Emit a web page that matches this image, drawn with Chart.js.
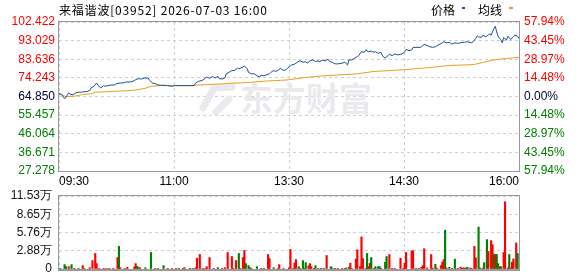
<!DOCTYPE html>
<html>
<head>
<meta charset="utf-8">
<script src="https://cdn.jsdelivr.net/npm/chart.js@4.4.1/dist/chart.umd.min.js"></script>
<style>
html, body { margin: 0; padding: 0; background: #fff; overflow: hidden; }
#wrap { position: relative; width: 578px; height: 276px; overflow: hidden; }
#priceChart { position: absolute; left: 0; top: 0; }
#volChart { position: absolute; left: 0; top: 180px; }
</style>
</head>
<body>
<div id="wrap">
  <canvas id="priceChart" width="578" height="190"></canvas>
  <canvas id="volChart" width="578" height="106"></canvas>
</div>
<script>
// Header and axis labels
const stockTitle = '来福谐波[03952] 2026-07-03 16:00';
const timeLabels = ['09:30', '11:00', '13:30', '14:30', '16:00'];
const timeTicks = [0, 82.5, 165, 247.5, 330];
const priceTicks = [27.278, 36.671, 46.064, 55.457, 64.850, 74.243, 83.636, 93.029, 102.422];
const pctLabels = ['57.94%', '43.45%', '28.97%', '14.48%', '0.00%', '14.48%', '28.97%', '43.45%', '57.94%'];
const volTicks = [0, 2.88, 5.76, 8.65, 11.53];

// Price line (minute index from 09:30, price)
const priceMinutes = [0, 2, 4, 5, 7, 8, 10, 12, 14, 16, 17, 20, 22, 23, 25, 27, 28, 30, 32, 33, 35, 38, 40, 41, 44, 46, 48, 51, 53, 55, 57, 59, 61, 64, 65, 67, 69, 71, 73, 76, 78, 81, 83, 90, 97,
  98, 100, 103, 105, 106, 108, 110, 112, 114, 115, 117, 119, 120, 122, 124, 126, 128, 129, 130, 132, 133, 135, 136, 138, 140, 142, 144, 145, 147, 149, 151, 152, 154, 155, 157, 159, 160, 162, 164, 166, 167,
  169, 171, 173, 175, 177, 178, 180, 182, 184, 185, 187, 189, 191, 193, 194, 196, 198, 200, 203, 205, 207, 208, 210, 212, 214, 215, 217, 219, 220, 222, 224, 226, 227, 229, 231, 232, 234, 236, 237, 239, 241, 243, 245, 247, 248,
  249, 251, 253, 254, 256, 259, 260, 262, 264, 266, 268, 270, 272, 275, 276, 278, 280, 282, 284, 286, 288, 291, 293, 296, 297, 299, 300, 301, 303, 304, 306, 308, 309, 310, 311, 312, 313, 314, 315, 316, 317, 318, 319, 321, 322, 323, 324, 326, 327, 329, 330];
const priceValues = [66.35, 65.85, 63.69, 64.68, 66.68, 66.01, 65.68, 66.68, 67.01, 67.01, 67.18, 67.34, 67.84, 69.17, 70.0, 71.67, 70.34, 69.17, 70.34, 70.0, 70.34, 70.67, 70.67, 71.33, 71.67, 71.67, 72.17, 72.17, 72.5, 73.33, 73.83, 73.66, 74.16, 74.16, 73.0, 71.67, 71.33, 70.67, 70.5, 70.5, 70.34, 70.0, 70.34, 70.34, 70.34,
  71.67, 72.5, 73.0, 74.16, 74.66, 74.0, 75.0, 74.16, 75.0, 73.83, 73.66, 74.16, 76.32, 76.99, 77.98, 77.98, 79.15, 78.81, 79.15, 79.65, 80.31, 78.81, 76.99, 76.32, 76.32, 75.32, 74.66, 75.66, 75.32, 75.82, 76.32, 76.99, 77.98, 77.48, 77.98, 79.15, 78.32, 77.98, 79.15, 80.31, 80.81,
  81.14, 82.14, 82.81, 82.14, 82.47, 81.64, 82.81, 83.30, 82.47, 82.81, 82.47, 83.14, 82.81, 83.64, 82.47, 82.14, 81.31, 81.31, 81.64, 82.14, 80.81, 83.30, 83.30, 84.14, 84.97, 85.47, 87.46, 87.13, 88.29, 87.46, 87.79, 87.13, 87.46, 86.63, 87.13, 85.47, 84.14, 85.47, 86.13, 85.47, 86.30, 85.80, 86.13, 86.63, 87.46,
  88.62, 87.96, 88.29, 89.62, 89.62, 89.62, 89.95, 91.12, 90.62, 89.95, 89.62, 89.95, 90.79, 91.95, 92.45, 91.95, 92.12, 91.28, 91.95, 91.62, 91.95, 92.28, 92.45, 91.95, 92.45, 94.11, 95.44, 94.94, 94.61, 95.77, 94.94, 95.77, 96.6, 95.77, 97.43, 99.1, 100.26, 97.43, 95.27, 94.11, 93.61, 91.95, 94.61, 93.28, 95.27, 94.61, 93.61, 94.94, 95.77, 95.27, 94.11];

// Average price line
const avgMinutes = [0, 5, 11, 17, 23, 26, 33, 41, 47, 54, 62, 66, 73, 83, 97, 99, 106, 116, 121, 130, 140, 149, 159, 165, 176, 188, 200, 214, 226, 240, 252, 268, 280, 297, 304, 311, 321, 330];
const avgValues = [66.2, 64.8, 65.0, 65.85, 66.2, 67.0, 67.2, 67.5, 67.7, 68.0, 69.0, 70.0, 70.34, 70.34, 70.34, 70.6, 70.84, 71.17, 71.5, 71.67, 72.17, 72.66, 73.0, 73.3, 74.4, 75.2, 75.7, 76.3, 77.5, 78.0, 78.6, 79.6, 80.5, 80.9, 82.0, 83.2, 84.0, 84.6];

// Volume bars (minute index, volume in 万, 1 = up / 0 = down)
const volMinutes = [1, 4, 5, 7, 9, 11, 14, 17, 18, 22, 24, 26, 27, 29, 32, 34, 36, 39, 42, 43, 44, 47, 49, 54, 55, 56, 57, 58, 62, 66, 69, 71, 75, 78, 81,
  84, 86, 89, 90, 94, 96, 98, 99, 101, 103, 105, 106, 108, 111, 114, 117, 119, 121, 124, 125, 127, 129, 130, 132, 133, 134, 136, 137, 138, 142, 145, 147, 150, 151, 154, 157, 158, 161, 165, 166,
  168, 169, 170, 172, 173, 175, 176, 177, 179, 180, 181, 183, 184, 186, 188, 190, 192, 195, 196, 198, 200, 203, 205, 206, 208, 209, 210, 213, 214, 216, 217, 218, 220, 221, 222, 223, 224, 226, 227, 229, 230, 231, 234, 235, 237, 239, 241, 245, 247, 248, 249,
  253, 254, 256, 258, 260, 261, 262, 264, 267, 268, 270, 271, 274, 275, 276, 277, 278, 280, 282, 284, 286, 288, 289, 290, 291, 292, 293, 295, 296, 298, 299, 301, 302, 304, 305, 307, 308, 310, 311, 312, 313, 314, 315, 316, 317, 319, 320, 322, 323, 324, 325, 326, 328, 329];
const volValues = [0.1, 0.69, 0.37, 0.37, 0.69, 0.1, 0.1, 0.53, 0.1, 0.21, 1.33, 2.45, 0.85, 0.1, 0.1, 0.1, 0.1, 0.1, 1.81, 3.57, 0.21, 0.1, 0.27, 0.32, 0.85, 0.43, 0.21, 0.21, 0.21, 2.61, 0.1, 0.1, 0.53, 0.1, 0.1,
  0.1, 0.1, 0.1, 0.21, 0.1, 0.1, 0.21, 1.71, 2.29, 0.1, 0.1, 0.37, 1.81, 0.1, 0.21, 0.1, 0.21, 2.61, 1.97, 0.1, 1.33, 2.45, 0.1, 1.81, 2.93, 0.85, 0.53, 0.21, 0.1, 0.37, 0.1, 0.1, 2.29, 1.65, 0.21, 0.1, 0.69, 0.1, 0.21, 3.09,
  0.1, 0.96, 1.49, 0.37, 0.1, 1.33, 0.1, 1.01, 0.48, 0.85, 0.37, 0.1, 0.53, 0.1, 0.1, 0.1, 2.13, 0.37, 0.16, 0.1, 0.1, 0.1, 0.1, 0.16, 0.27, 0.91, 0.1, 1.6, 3.04, 0.37, 5.07, 1.65, 0.1, 2.45, 0.37, 0.91, 1.81, 0.1, 0.37, 0.37, 0.37, 0.1, 1.07, 1.97, 2.29, 0.1, 0.1, 1.71, 0.1, 0.91, 2.61,
  2.88, 2.88, 0.1, 0.1, 0.27, 0.53, 3.2, 0.16, 2.29, 0.16, 0.75, 0.16, 0.53, 1.07, 1.49, 6.13, 0.16, 0.27, 0.1, 1.55, 0.1, 0.27, 0.16, 0.16, 0.16, 0.16, 0.27, 0.16, 0.1, 3.57, 1.76, 6.61, 0.16, 0.16, 1.01, 4.64, 2.77, 4.48, 3.84, 2.29, 2.29, 2.29, 0.85, 0.37, 0.37, 2.61, 10.61, 0.16, 2.29, 0.16, 1.07, 1.6, 4.11, 2.45];
const volUp = [0, 0, 0, 1, 0, 1, 0, 1, 0, 1, 1, 1, 1, 1, 1, 1, 1, 1, 1, 0, 1, 0, 1, 1, 1, 0, 0, 1, 0, 0, 1, 0, 0, 1, 1,
  1, 0, 0, 1, 0, 0, 1, 1, 1, 1, 1, 1, 1, 1, 0, 1, 1, 1, 1, 1, 1, 0, 1, 1, 1, 0, 0, 0, 1, 0, 1, 1, 1, 1, 0, 1, 1, 1, 1, 1,
  1, 1, 1, 0, 1, 0, 1, 0, 1, 1, 1, 0, 0, 1, 0, 1, 1, 0, 0, 1, 1, 1, 1, 0, 0, 1, 1, 1, 1, 1, 1, 1, 1, 0, 0, 1, 0, 1, 0, 0, 0, 1, 0, 0, 1, 1, 1, 1, 1, 1, 1,
  1, 1, 1, 0, 1, 1, 1, 1, 1, 1, 0, 1, 1, 1, 1, 0, 1, 0, 1, 0, 1, 1, 1, 1, 0, 1, 0, 1, 1, 1, 1, 0, 0, 1, 0, 0, 1, 1, 1, 0, 1, 0, 0, 1, 0, 1, 1, 1, 0, 1, 1, 1, 1, 0];

const RED = '#ff0000';
const GREEN = '#008000';
const BLUE = '#1a4f9c';
const ORANGE = '#e2a21b';
const GRID = '#cfcfcf';
const tickFont = { family: '"Liberation Sans", Arial, sans-serif', size: 12 };

function priceTickColor(ctx) {
    if (ctx.index < 4) return GREEN;
    if (ctx.index > 4) return RED;
    return '#00003a';
}

// plot frame, header, legend and watermark
const framePlugin = {
    id: 'frame',
    beforeDatasetsDraw(chart, args, opts) {
        if (!opts.watermark) return;
        const ctx = chart.ctx;
        ctx.save();
        ctx.fillStyle = '#eaeaee';
        ctx.strokeStyle = '#eaeaee';
        ctx.lineWidth = 7;
        ctx.lineCap = 'round';
        ctx.beginPath();
        ctx.moveTo(232, 87);
        ctx.lineTo(214, 88);
        ctx.lineTo(203, 108);
        ctx.moveTo(229, 99);
        ctx.lineTo(216, 112);
        ctx.stroke();
        ctx.font = 'bold 33px "Noto Sans CJK SC"';
        ctx.textBaseline = 'middle';
        ctx.fillText('东方财富', 240, 98);
        ctx.restore();
    },
    afterDraw(chart, args, opts) {
        const ctx = chart.ctx;
        const a = chart.chartArea;
        ctx.save();
        ctx.strokeStyle = '#999';
        ctx.lineWidth = 1;
        ctx.strokeRect(a.left - 0.5, a.top - 0.5, a.right - a.left + 1, a.bottom - a.top + 1);
        if (opts.thickBottom) {
            ctx.lineWidth = 2;
            ctx.beginPath();
            ctx.moveTo(a.left - 1, a.bottom + 1);
            ctx.lineTo(a.right + 1, a.bottom + 1);
            ctx.stroke();
        }
        if (opts.header) {
            ctx.fillStyle = '#000';
            ctx.textBaseline = 'middle';
            ctx.font = '12px "Noto Sans CJK SC"';
            ctx.letterSpacing = '0.8px';
            ctx.fillText(stockTitle, 59, 10);
            ctx.letterSpacing = '0px';
            // legend: text then a small colour mark
            const ds = chart.data.datasets;
            const legendX = [431, 478];
            const markW = [3, 4];
            ds.forEach((d, i) => {
                ctx.fillStyle = '#000';
                ctx.fillText(d.label, legendX[i], 10);
                ctx.fillStyle = d.borderColor;
                ctx.fillRect(legendX[i] + 31, 7, markW[i], 2);
            });
        }
        ctx.restore();
    }
};

function fixedTicks(values) {
    return function(scale) {
        scale.ticks = values.map(v => ({ value: v }));
    };
}

const priceCtx = document.getElementById('priceChart').getContext('2d');
new Chart(priceCtx, {
    type: 'line',
    data: {
        datasets: [{
            label: '价格',
            data: priceMinutes.map((m, i) => ({ x: m, y: priceValues[i] })),
            borderColor: BLUE,
            borderWidth: 1,
            pointRadius: 0,
            tension: 0
        }, {
            label: '均线',
            data: avgMinutes.map((m, i) => ({ x: m, y: avgValues[i] })),
            borderColor: ORANGE,
            borderWidth: 1,
            pointRadius: 0,
            tension: 0
        }]
    },
    options: {
        responsive: false,
        animation: false,
        devicePixelRatio: 1,
        layout: { padding: { top: 22, left: 0, right: 0, bottom: 0 } },
        plugins: {
            legend: { display: false },
            tooltip: { enabled: false },
            frame: { header: true, watermark: true }
        },
        scales: {
            x: {
                type: 'linear',
                min: 0,
                max: 330,
                afterBuildTicks: fixedTicks(timeTicks),
                afterFit(scale) { scale.height = 19; },
                ticks: {
                    align: 'inner',
                    padding: 3,
                    maxRotation: 0,
                    autoSkip: false,
                    color: '#000',
                    font: tickFont,
                    callback: (v, i) => timeLabels[i]
                },
                grid: { color: GRID, drawTicks: false },
                border: { display: false, dash: [3, 3] }
            },
            y: {
                position: 'left',
                min: priceTicks[0],
                max: priceTicks[priceTicks.length - 1],
                afterBuildTicks: fixedTicks(priceTicks),
                afterFit(scale) { scale.width = 59; },
                ticks: {
                    padding: 4,
                    autoSkip: false,
                    color: priceTickColor,
                    font: tickFont,
                    callback: v => v.toFixed(3)
                },
                grid: { color: GRID, drawTicks: false },
                border: { display: false, dash: [3, 3] }
            },
            yR: {
                position: 'right',
                min: priceTicks[0],
                max: priceTicks[priceTicks.length - 1],
                afterBuildTicks: fixedTicks(priceTicks),
                afterFit(scale) { scale.width = 59; },
                ticks: {
                    padding: 5,
                    autoSkip: false,
                    color: priceTickColor,
                    font: tickFont,
                    callback: (v, i) => pctLabels[i]
                },
                grid: { display: false, drawTicks: false },
                border: { display: false }
            }
        }
    },
    plugins: [framePlugin]
});

// volume canvas starts at y=180 and runs past the page bottom so label overflow never squeezes the plot
const volCtx = document.getElementById('volChart').getContext('2d');
new Chart(volCtx, {
    type: 'bar',
    data: {
        datasets: [{
            label: '成交量',
            data: volMinutes.map((m, i) => ({ x: m, y: volValues[i] })),
            backgroundColor: volUp.map(u => u ? RED : GREEN),
            barThickness: 1.5,
            borderWidth: 0
        }]
    },
    options: {
        responsive: false,
        animation: false,
        devicePixelRatio: 1,
        layout: { padding: { top: 16, left: 0, right: 59, bottom: 0 } },
        plugins: {
            legend: { display: false },
            tooltip: { enabled: false },
            frame: { thickBottom: true }
        },
        scales: {
            x: {
                type: 'linear',
                min: 0,
                max: 330,
                offset: false,
                afterBuildTicks: fixedTicks(timeTicks),
                afterFit(scale) { scale.height = 17; },
                ticks: { display: false },
                grid: { color: GRID, drawTicks: false, offset: false },
                border: { display: false, dash: [3, 3] }
            },
            y: {
                position: 'left',
                min: 0,
                max: volTicks[volTicks.length - 1],
                afterBuildTicks: fixedTicks(volTicks),
                afterFit(scale) { scale.width = 59; },
                ticks: {
                    padding: 7,
                    autoSkip: false,
                    color: '#111',
                    font: tickFont,
                    callback: v => v === 0 ? '0' : v.toFixed(2) + '万'
                },
                grid: { color: GRID, drawTicks: false },
                border: { display: false, dash: [3, 3] }
            }
        }
    },
    plugins: [framePlugin]
});
</script>
</body>
</html>
